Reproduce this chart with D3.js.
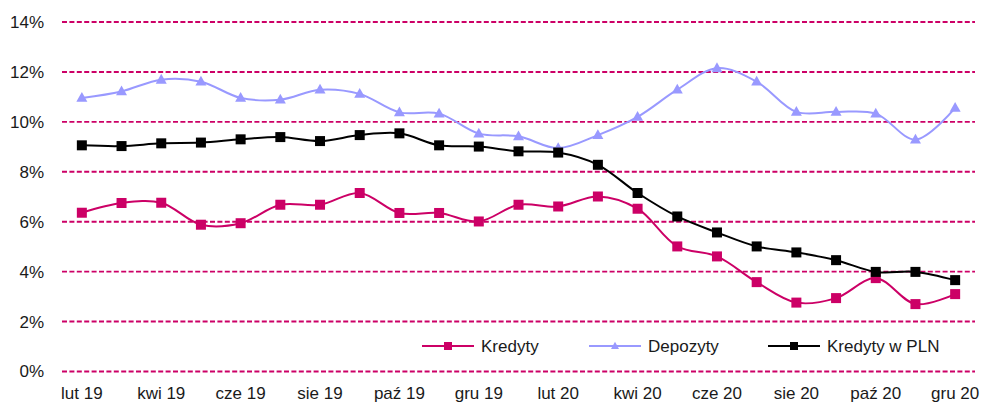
<!DOCTYPE html>
<html lang="pl">
<head>
    <meta charset="UTF-8">
    <title>Kredyty i depozyty</title>
    <script src="https://d3js.org/d3.v7.min.js"></script>
    <style>
        body { margin: 0; background: #fff; }
        text { font-family: "Liberation Sans", Arial, sans-serif; fill: #1a1a1a; }
    </style>
</head>
<body>
    <div id="chart"></div>

    <script>
        // months, every second one labelled on the axis
        const months = ["lut 19", "mar 19", "kwi 19", "maj 19", "cze 19", "lip 19", "sie 19", "wrz 19",
            "paź 19", "lis 19", "gru 19", "sty 20", "lut 20", "mar 20", "kwi 20", "maj 20",
            "cze 20", "lip 20", "sie 20", "wrz 20", "paź 20", "lis 20", "gru 20"];
        const kredyty = [6.36, 6.75, 6.76, 5.88, 5.94, 6.68, 6.68, 7.15, 6.35, 6.35, 6.01, 6.68,
            6.61, 7.01, 6.52, 5.01, 4.61, 3.58, 2.76, 2.94, 3.74, 2.70, 3.10];
        const depozyty = [10.96, 11.22, 11.69, 11.61, 10.96, 10.89, 11.29, 11.12, 10.38, 10.33, 9.53, 9.42,
            8.95, 9.47, 10.20, 11.29, 12.15, 11.61, 10.40, 10.40, 10.33, 9.29, 10.56];
        const kredytyPLN = [9.06, 9.03, 9.14, 9.17, 9.30, 9.39, 9.23, 9.47, 9.54, 9.06, 9.01, 8.82,
            8.77, 8.28, 7.15, 6.21, 5.57, 5.01, 4.77, 4.46, 3.99, 3.99, 3.66];
        const yTicks = [0, 2, 4, 6, 8, 10, 12, 14];

        const width = 985, height = 405;
        const plotLeft = 62, plotRight = 975, plotTop = 22, plotBottom = 371.5;

        const svg = d3.select("#chart").append("svg")
            .attr("width", width)
            .attr("height", height);

        const x = d3.scaleBand().domain(months).range([plotLeft, plotRight]);
        const y = d3.scaleLinear().domain([0, 14]).range([plotBottom, plotTop]);
        const cx = d => x(d) + x.bandwidth() / 2;

        // dashed grid lines
        svg.append("g")
            .selectAll("line")
            .data(yTicks)
            .join("line")
            .attr("x1", plotLeft)
            .attr("x2", plotRight)
            .attr("y1", d => y(d))
            .attr("y2", d => y(d))
            .attr("stroke", "#cc0066")
            .attr("stroke-width", 1.9)
            .attr("stroke-dasharray", "5,2.4");

        // y axis labels
        svg.append("g")
            .selectAll("text")
            .data(yTicks)
            .join("text")
            .attr("x", 44)
            .attr("y", d => y(d))
            .attr("dy", "0.35em")
            .attr("text-anchor", "end")
            .style("font-size", "17px")
            .text(d => d + "%");

        // x axis labels
        svg.append("g")
            .selectAll("text")
            .data(months.filter((d, i) => i % 2 === 0))
            .join("text")
            .attr("x", d => cx(d))
            .attr("y", 399)
            .attr("text-anchor", "middle")
            .style("font-size", "17px")
            .text(d => d);

        const series = [
            { name: "Kredyty", values: kredyty, color: "#cc0066", marker: "square", size: 10, legendX: 422 },
            { name: "Depozyty", values: depozyty, color: "#9999ff", marker: "triangle", size: 11, legendX: 589 },
            { name: "Kredyty w PLN", values: kredytyPLN, color: "#000000", marker: "square", size: 10, legendX: 768 }
        ];

        const line = d3.line()
            .x((d, i) => cx(months[i]))
            .y(d => y(d))
            .curve(d3.curveCatmullRom.alpha(0.5));

        function drawMarker(g, s, px, py, size) {
            if (s.marker === "square") {
                g.append("rect")
                    .attr("x", px - size / 2)
                    .attr("y", py - size / 2)
                    .attr("width", size)
                    .attr("height", size)
                    .attr("fill", s.color);
            } else {
                const h = size * 0.9;
                g.append("path")
                    .attr("d", `M${px},${py - h * 0.6}L${px + size / 2},${py + h * 0.4}L${px - size / 2},${py + h * 0.4}Z`)
                    .attr("fill", s.color);
            }
        }

        series.forEach(s => {
            const g = svg.append("g");
            g.append("path")
                .datum(s.values)
                .attr("d", line)
                .attr("fill", "none")
                .attr("stroke", s.color)
                .attr("stroke-width", 2);
            s.values.forEach((v, i) => drawMarker(g, s, cx(months[i]), y(v), s.size));

            // legend entry
            const ly = 346;
            const lg = svg.append("g");
            lg.append("line")
                .attr("x1", s.legendX)
                .attr("x2", s.legendX + 52)
                .attr("y1", ly)
                .attr("y2", ly)
                .attr("stroke", s.color)
                .attr("stroke-width", 2);
            drawMarker(lg, s, s.legendX + 26, ly, 8);
            lg.append("text")
                .attr("x", s.legendX + 59)
                .attr("y", ly)
                .attr("dy", "0.35em")
                .style("font-size", "17px")
                .text(s.name);
        });
    </script>
</body>
</html>
